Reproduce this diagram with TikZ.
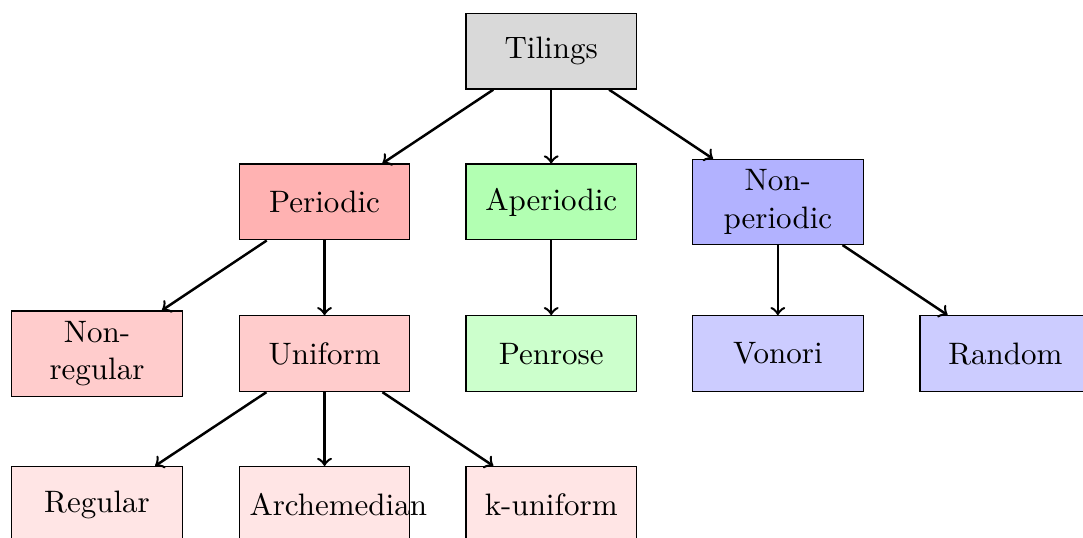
\documentclass[tikz,border=0pt]{standalone}
\usepackage{tikz}
\usetikzlibrary{arrows}

\begin{document}
\begin{tikzpicture}[every node/.style={draw, text width=1.7cm, align=center, minimum height=0.86cm}, >=to]
            \useasboundingbox (-6.25,-5.52) rectangle (6.03,0.58);
            \node[fill=black!15] (tilings) at (0,0) {Tilings};

            \node[fill=red!30] (periodic) at (-2.57,-1.71) {Periodic};
            \node[fill=green!30] (aperiodic) at (0,-1.71) {Aperiodic};
            \node[fill=blue!30] (nonperiodic) at (2.57,-1.71) {Non-\\periodic};

            \node[fill=red!20] (nonregular) at (-5.15,-3.43) {Non-\\regular};
            \node[fill=red!20] (uniform) at (-2.57,-3.43) {Uniform};
            \node[fill=green!20] (penrose) at (0,-3.43) {Penrose};
            \node[fill=blue!20] (vonori) at (2.57,-3.43) {Vonori};
            \node[fill=blue!20] (random) at (5.15,-3.43) {Random};

            \node[fill=red!10] (regular) at (-5.15,-5.14) {Regular};
            \node[fill=red!10] (archemedian) at (-2.57,-5.14) {Archemedian};
            \node[fill=red!10] (kuniform) at (0,-5.14) {k-uniform};

            \draw[thick, ->] (tilings) -- (periodic);
            \draw[thick, ->] (tilings) -- (aperiodic);
            \draw[thick, ->] (tilings) -- (nonperiodic);
            \draw[thick, ->] (periodic) -- (nonregular);
            \draw[thick, ->] (periodic) -- (uniform);
            \draw[thick, ->] (aperiodic) -- (penrose);
            \draw[thick, ->] (nonperiodic) -- (vonori);
            \draw[thick, ->] (nonperiodic) -- (random);
            \draw[thick, ->] (uniform) -- (regular);
            \draw[thick, ->] (uniform) -- (archemedian);
            \draw[thick, ->] (uniform) -- (kuniform);
        \end{tikzpicture}
\end{document}
